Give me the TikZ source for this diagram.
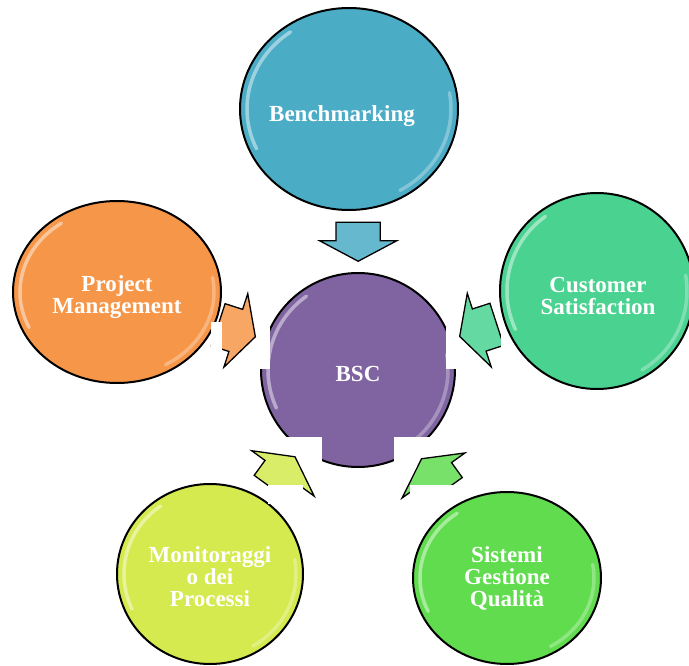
\documentclass[tikz,border=0pt]{standalone}
\usepackage{fontspec}
\setmainfont{Liberation Serif}
\usepackage{xcolor}
\usetikzlibrary{shapes.arrows}
\usetikzlibrary{shapes.geometric}
\usetikzlibrary{calc}

\definecolor{bmblue}{RGB}{75,172,198}
\definecolor{bscpurple}{RGB}{128,100,162}
\definecolor{pmorange}{RGB}{246,150,72}
\definecolor{csgreen}{RGB}{74,210,145}
\definecolor{mpyellow}{RGB}{212,234,78}
\definecolor{sgqgreen}{RGB}{96,220,78}

\begin{document}
\begin{tikzpicture}[x=1pt,y=-1pt,
    ball/.style={ellipse,draw=black,line width=2pt,inner sep=0pt},
    lbl/.style={text=white,font=\bfseries\fontsize{23}{22}\selectfont,align=center},
    blk/.style={single arrow,draw=black,line width=1.3pt,inner xsep=0pt,inner ysep=21.5pt,
      minimum height=39pt,single arrow head extend=16.5pt,single arrow tip angle=124,
      anchor=tip},
    gloss/.style={white,line width=3.5pt,opacity=.45,line cap=round},
    blank/.style={fill=white,draw=none}]
  \fill[white] (0,0) rectangle (689,666);
  \useasboundingbox (0,0) rectangle (689,666);

  \node[ball,fill=bscpurple,minimum width=194pt,minimum height=194pt] (bsc) at (358,370) {};
  \node[ball,fill=bmblue,minimum width=218pt,minimum height=202pt] (bm) at (349,109) {};
  \node[ball,fill=pmorange,minimum width=208pt,minimum height=182pt] (pm) at (117,292) {};
  \node[ball,fill=csgreen,minimum width=194pt,minimum height=196pt] (cs) at (597,291) {};
  \node[ball,fill=mpyellow,minimum width=186pt,minimum height=180pt] (mp) at (210,574) {};
  \node[ball,fill=sgqgreen,minimum width=188pt,minimum height=172pt] (sgq) at (507,578) {};

  % rim highlights
  \foreach \n/\a/\b in {bsc/90pt/90pt,bm/102pt/94pt,pm/97pt/84pt,cs/90pt/91pt,mp/86pt/83pt,sgq/87pt/79pt} {
    \draw[gloss] (\n.center) ++(125:{\a} and {\b})
      arc[start angle=125,end angle=205,x radius=\a,y radius=\b];
    \draw[gloss,opacity=.3] (\n.center) ++(-60:{\a} and {\b})
      arc[start angle=-60,end angle=10,x radius=\a,y radius=\b];
  }

  % cut-outs round BSC
  \fill[blank] (255,325) rectangle (269.5,369);
  \fill[blank] (446,325) rectangle (460,369);
  \fill[blank] (270,437) rectangle (322,470);
  \fill[blank] (394,437) rectangle (450,470);

  % arrows into BSC, tip half a length past the midpoint
  \node[blk,fill=bmblue!85!white,rotate=-90] (a1) at ($(bm)!.5!(bsc)!19.5pt!(bsc)+(4,3)$) {};
  \node[blk,fill=pmorange!85!white,rotate=-18] (a2) at ($(pm)!.5!(bsc)!19.5pt!(bsc)$) {};
  \node[blk,fill=csgreen!85!white,rotate=-162] (a3) at ($(cs)!.5!(bsc)!19.5pt!(bsc)$) {};
  \node[blk,fill=mpyellow!85!white,rotate=54] (a4) at ($(mp)!.5!(bsc)!19.5pt!(bsc)$) {};
  \node[blk,fill=sgqgreen!85!white,rotate=125.6] (a5) at ($(sgq)!.5!(bsc)!19.5pt!(bsc)$) {};

  % cut-outs round the arrows
  \fill[blank] (211,322) rectangle (222,372);
  \fill[blank] (500.5,330) rectangle (507,352);
  \fill[blank] (268,485) rectangle (303,504);
  \fill[blank] (410,485) rectangle (470,498);
  \fill[blank] (410,485) rectangle (450,507);

  % texts
  \node[lbl] (bsct) at ([yshift=-4pt]bsc) {BSC};
  \node[lbl] (bmt) at ([xshift=-7pt,yshift=-7pt]bm) {Benchmarking};
  \node[lbl] (pmt) at ([yshift=-5pt]pm) {Project\\Management};
  \node[lbl] (cst) at ([xshift=1pt,yshift=-5pt]cs) {Customer\\Satisfaction};
  \node[lbl] (mpt) at ([yshift=-3pt]mp) {Monitoraggi\\o dei\\Processi};
  \node[lbl] (sgqt) at (sgq) {Sistemi\\Gestione\\Qualità};
\end{tikzpicture}
\end{document}
